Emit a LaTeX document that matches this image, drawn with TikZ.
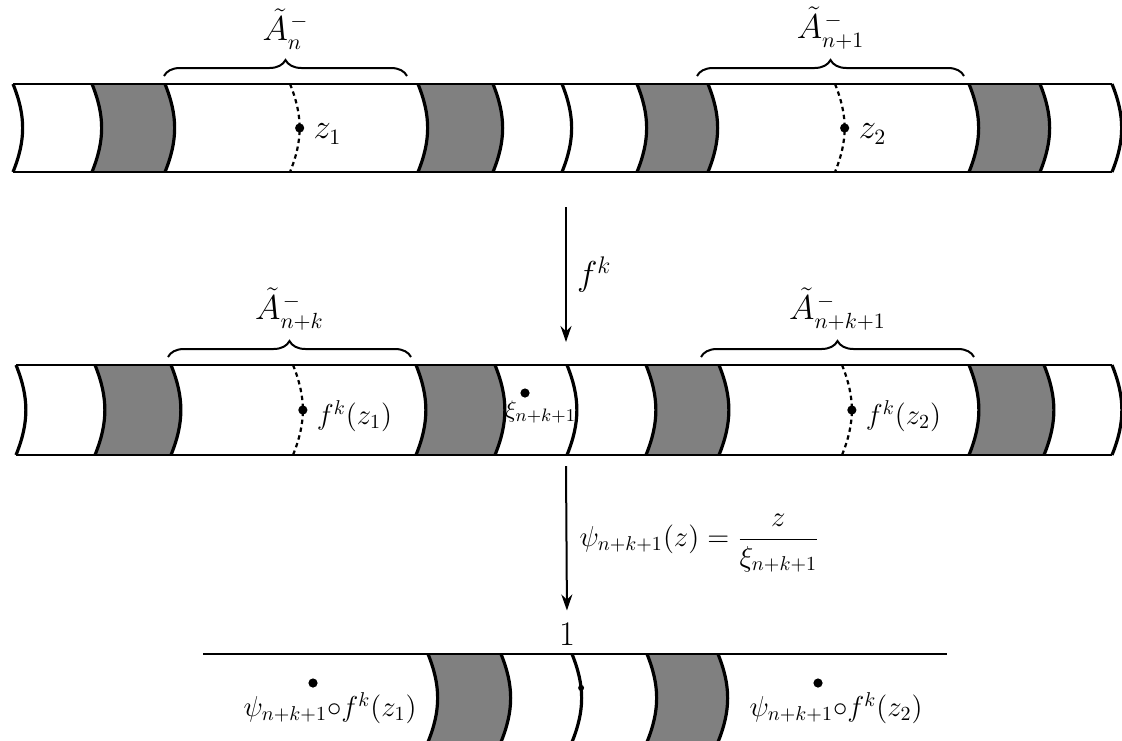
\documentclass[tikz,border=0pt]{standalone}
\usepackage{tikz}
\usetikzlibrary{arrows.meta,positioning,decorations.pathreplacing}
\tikzset{
 rim/.style={line width=1.1pt},
 cut/.style={line width=1.6pt},
 probe/.style={line width=1.1pt,dash pattern=on 2.2pt off 1.8pt},
 hatch/.style={fill=black!50},
 pt/.style={circle,fill=black,inner sep=0pt,minimum size=4.6pt},
 lbl/.style={inner sep=1pt,font=\fontsize{14}{16}\selectfont},
 biglbl/.style={lbl,font=\fontsize{16}{18}\selectfont},
 brc/.style={decorate,decoration={brace,amplitude=8pt},line width=1pt},
 map/.style={-{Stealth[length=8pt,width=5.5pt]},line width=1pt}}

\begin{document}
\begin{tikzpicture}[x=0.5pt,y=-0.5pt]
\useasboundingbox (0,0) rectangle (1122,740);

% upper strip
\foreach \a/\b in {92/165,418/493,637/708,969/1040}{
  \fill[hatch] (\a,84) to[bend left=22] (\a,172) -- (\b,172) to[bend right=22] (\b,84) -- cycle;
  \draw[cut] (\a,84) to[bend left=22] (\a,172) (\b,84) to[bend left=22] (\b,172);}
\foreach \a in {13,562,1112} \draw[cut] (\a,84) to[bend left=22] (\a,172);
\draw[rim] (13,84) -- (1112,84) (13,172) -- (1112,172);
\draw[probe] (290,84) to[bend left=22] node[pt,pos=.5] (z1) {} (290,172);
\draw[probe] (835,84) to[bend left=22] node[pt,pos=.5] (z2) {} (835,172);
\node[biglbl,right=3pt of z1,yshift=-3pt] (z1l) {$z_1$};
\node[biglbl,right=3pt of z2,yshift=-3pt] (z2l) {$z_2$};
\draw[brc] (164,76) -- node[biglbl,above=12pt] (An) {$\tilde A^{\mkern2mu-}_n$} (407,76);
\draw[brc] (697,76) -- node[biglbl,above=12pt] (An1) {$\tilde A^{\mkern2mu-}_{n+1}$} (964,76);

% middle strip
\foreach \a/\b in {95/171,416/495,646/719,969/1044}{
  \fill[hatch] (\a,365) to[bend left=22] (\a,455) -- (\b,455) to[bend right=22] (\b,365) -- cycle;
  \draw[cut] (\a,365) to[bend left=22] (\a,455) (\b,365) to[bend left=22] (\b,455);}
\foreach \a in {16,567,1112} \draw[cut] (\a,365) to[bend left=22] (\a,455);
\draw[rim] (16,365) -- (1112,365) (16,455) -- (1112,455);
\draw[probe] (293,365) to[bend left=22] node[pt,pos=.5] (w1) {} (293,455);
\draw[probe] (842,365) to[bend left=22] node[pt,pos=.5] (w2) {} (842,455);
\node[lbl,right=3pt of w1,yshift=-3pt] (w1l) {$f^k(z_1)$};
\node[lbl,right=3pt of w2,yshift=-3pt] (w2l) {$f^k(z_2)$};
\node[pt] (xi) at (525,393) {};
\node[lbl,anchor=north west,font=\fontsize{13}{15}\selectfont] (xil) at (503,398) {$\xi_{n+k+1}$};
\draw[brc] (168,357) -- node[biglbl,above=12pt] (Ank) {$\tilde A^{\mkern2mu-}_{n+k}$} (411,357);
\draw[brc] (701,357) -- node[biglbl,above=12pt] (Ank1) {$\tilde A^{\mkern2mu-}_{n+k+1}$} (974,357);

% maps
\coordinate (up-out) at (566,207);
\coordinate (mid-in) at (566,342);
\coordinate (mid-out) at (566,466);
\node[lbl,font=\fontsize{16}{18}\selectfont] (one) at (567,634) {$1$};
\draw[map] (up-out) -- node[lbl,right=4pt,font=\fontsize{17}{19}\selectfont] (fk) {$f^k$} (mid-in);
\draw[map,shorten >=5pt] (mid-out) -- node[lbl,right=5pt] (psi)
  {$\psi_{n+k+1}(z)=\displaystyle\frac{z}{\xi_{n+k+1}}$} (one.north);

% image under psi
\foreach \a/\b in {428/501,647/718}{
  \fill[hatch] (\a,654) to[bend left=22] (\a,742) -- (\b,742) to[bend right=22] (\b,654) -- cycle;
  \draw[cut] (\a,654) to[bend left=22] (\a,742) (\b,654) to[bend left=22] (\b,742);}
\draw[cut] (572,654) to[bend left=22] node[pt,pos=.38,minimum size=3pt] (unit) {} (572,742);
\draw[rim] (203,654) -- (947,654);
\node[pt] (v1) at (313,683) {};
\node[pt] (v2) at (818,683) {};
\node[lbl] (v1l) at (330,708) {$\psi_{n+k+1}{\circ}f^k(z_1)$};
\node[lbl] (v2l) at (836,708) {$\psi_{n+k+1}{\circ}f^k(z_2)$};
\end{tikzpicture}
\end{document}
